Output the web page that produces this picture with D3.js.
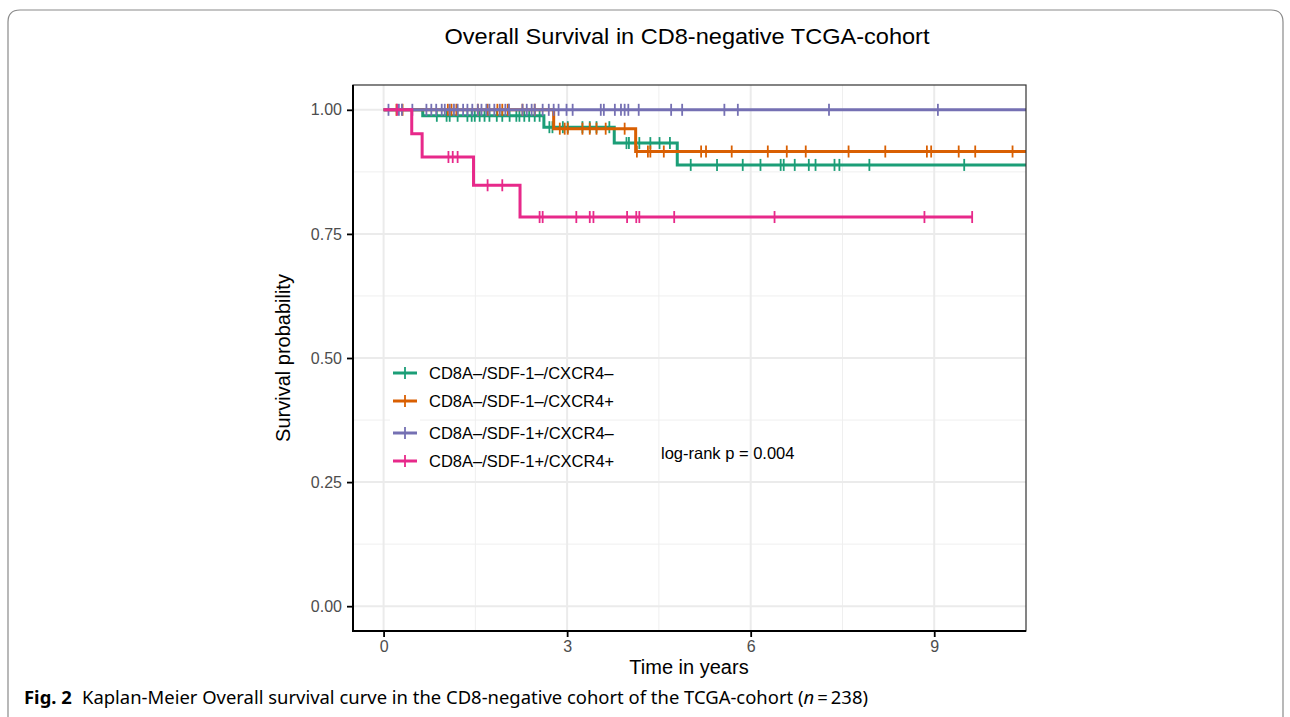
<!DOCTYPE html>
<html>
<head>
<meta charset="utf-8">
<script src="https://cdn.jsdelivr.net/npm/d3@7"></script>
<style>
  body { margin: 0; background: #fff; }
  svg { display: block; }
</style>
</head>
<body>
<div id="chart"></div>
<script>
// strata, colours
const strata = ['CD8A–/SDF-1–/CXCR4–', 'CD8A–/SDF-1–/CXCR4+', 'CD8A–/SDF-1+/CXCR4–', 'CD8A–/SDF-1+/CXCR4+'];
const colors = ['#1B9E77', '#D95F02', '#7570B3', '#E7298A'];

// step curves: event times and survival after each event (start at 0, 1)
const stepTimes = [
  [0, 0.64, 2.62, 3.77, 4.80],
  [0, 2.78, 4.12],
  [0],
  [0, 0.46, 0.63, 1.47, 2.23],
];
const stepSurv = [
  [1, 0.988, 0.965, 0.933, 0.889],
  [1, 0.962, 0.916],
  [1],
  [1, 0.952, 0.905, 0.848, 0.784],
];
const lastTime = [10.8, 10.8, 10.8, 9.62];

// censoring times
const censorTimes = [
  [0.87, 1.03, 1.08, 1.21, 1.37, 1.44, 1.49, 1.57, 1.65, 1.73, 1.85, 1.94, 2.06, 2.17, 2.22, 2.30, 2.38, 2.47, 2.55,
   2.71, 2.76, 2.93, 3.01, 3.25, 3.37, 3.48, 3.69,
   3.97, 4.01, 4.18, 4.36, 4.51, 4.68,
   5.02, 5.45, 5.87, 6.16, 6.49, 6.54, 6.72, 6.95, 7.06, 7.37, 7.45, 7.94, 9.49],
  [0.21, 0.31, 1.05, 1.11, 1.19, 1.54, 1.70, 1.86, 1.94, 2.03, 2.27, 2.47,
   2.88, 2.96, 3.01, 3.25, 3.37, 3.48, 3.63, 3.94,
   4.14, 4.32, 4.36, 4.58, 5.19, 5.27, 5.69, 6.28, 6.59, 6.90, 7.60, 8.20, 8.88, 8.95, 9.40, 9.67, 10.28],
  [0.08, 0.25, 0.30, 0.47, 0.70, 0.78, 0.86, 0.95, 1.00, 1.08, 1.15, 1.21, 1.30, 1.37, 1.45, 1.54, 1.60, 1.68, 1.73,
   1.81, 1.90, 1.99, 2.05, 2.27, 2.34, 2.42, 2.47, 2.60, 2.70, 2.78, 2.86, 2.99, 3.09, 3.55, 3.60, 3.78, 3.88,
   3.94, 4.00, 4.17, 4.70, 4.88, 5.57, 5.79, 7.28, 9.06],
  [0.22, 1.06, 1.13, 1.21, 1.70, 1.94, 2.55, 2.60, 3.15, 3.37, 3.43, 3.98, 4.13, 4.18, 4.75, 6.39, 8.84, 9.62],
];

const xTicks = [0, 3, 6, 9];
const xMinor = [1.5, 4.5, 7.5];
const yTicks = [0, 0.25, 0.5, 0.75, 1];
const yMinor = [0.125, 0.375, 0.625, 0.875];

const W = 1290, H = 717;
const panel = { left: 353, right: 1026, top: 85, bottom: 631 };
const font = "'Liberation Sans', Arial, sans-serif";

const svg = d3.select('#chart').append('svg')
  .attr('width', W).attr('height', H);

// figure frame
svg.append('path')
  .attr('d', `M8,${H} L8,22 Q8,10 20,10 L1271,10 Q1283,10 1283,22 L1283,${H}`)
  .attr('fill', 'none').attr('stroke', '#8a8a8a').attr('stroke-width', 1.2);

// title
svg.append('text')
  .attr('x', 687).attr('y', 44)
  .attr('text-anchor', 'middle')
  .attr('textLength', 485).attr('lengthAdjust', 'spacingAndGlyphs')
  .style('font-family', font).style('font-size', '22px').style('fill', '#000')
  .text('Overall Survival in CD8-negative TCGA-cohort');

const x = d3.scaleLinear().domain([-0.5, 10.5]).range([panel.left, panel.right]);
const y = d3.scaleLinear().domain([-0.05, 1.05]).range([panel.bottom, panel.top]);

svg.append('defs').append('clipPath').attr('id', 'clip')
  .append('rect')
  .attr('x', panel.left).attr('y', panel.top)
  .attr('width', panel.right - panel.left).attr('height', panel.bottom - panel.top);

// grid
const grid = svg.append('g');
grid.selectAll('.xminor').data(xMinor).enter().append('line')
  .attr('x1', d => x(d)).attr('x2', d => x(d))
  .attr('y1', panel.top).attr('y2', panel.bottom)
  .attr('stroke', '#efefef').attr('stroke-width', 1);
grid.selectAll('.yminor').data(yMinor).enter().append('line')
  .attr('y1', d => y(d)).attr('y2', d => y(d))
  .attr('x1', panel.left).attr('x2', panel.right)
  .attr('stroke', '#efefef').attr('stroke-width', 1);
grid.selectAll('.xmajor').data(xTicks).enter().append('line')
  .attr('x1', d => x(d)).attr('x2', d => x(d))
  .attr('y1', panel.top).attr('y2', panel.bottom)
  .attr('stroke', '#ebebeb').attr('stroke-width', 2);
grid.selectAll('.ymajor').data(yTicks).enter().append('line')
  .attr('y1', d => y(d)).attr('y2', d => y(d))
  .attr('x1', panel.left).attr('x2', panel.right)
  .attr('stroke', '#ebebeb').attr('stroke-width', 2);

// curves
const plot = svg.append('g').attr('clip-path', 'url(#clip)');
const line = d3.line().x(d => x(d[0])).y(d => y(d[1])).curve(d3.curveStepAfter);

function survAt(i, t) {
  let s = 1;
  stepTimes[i].forEach((st, k) => { if (st <= t) s = stepSurv[i][k]; });
  return s;
}

strata.forEach((name, i) => {
  const pts = stepTimes[i].map((t, k) => [t, stepSurv[i][k]]);
  pts.push([lastTime[i], stepSurv[i][stepSurv[i].length - 1]]);
  plot.append('path')
    .datum(pts)
    .attr('d', line)
    .attr('fill', 'none')
    .attr('stroke', colors[i])
    .attr('stroke-width', 3);
  plot.selectAll('.c' + i)
    .data(censorTimes[i])
    .enter().append('line')
    .attr('x1', d => x(d)).attr('x2', d => x(d))
    .attr('y1', d => y(survAt(i, d)) - 6)
    .attr('y2', d => y(survAt(i, d)) + 6)
    .attr('stroke', colors[i])
    .attr('stroke-width', 1.8);
});

// panel border
svg.append('rect')
  .attr('x', panel.left).attr('y', panel.top)
  .attr('width', panel.right - panel.left).attr('height', panel.bottom - panel.top)
  .attr('fill', 'none').attr('stroke', '#333').attr('stroke-width', 1.2);
svg.append('line')
  .attr('x1', panel.left).attr('x2', panel.left)
  .attr('y1', panel.top).attr('y2', panel.bottom + 1)
  .attr('stroke', '#000').attr('stroke-width', 2);
svg.append('line')
  .attr('x1', panel.left - 1).attr('x2', panel.right)
  .attr('y1', panel.bottom).attr('y2', panel.bottom)
  .attr('stroke', '#000').attr('stroke-width', 2);

// axes
const xAxis = svg.append('g')
  .attr('transform', `translate(0,${panel.bottom + 1})`)
  .call(d3.axisBottom(x).tickValues(xTicks).tickSize(5).tickPadding(4));
const yAxis = svg.append('g')
  .attr('transform', `translate(${panel.left - 1},0)`)
  .call(d3.axisLeft(y).tickValues(yTicks).tickFormat(d3.format('.2f')).tickSize(5).tickPadding(5));
[xAxis, yAxis].forEach(a => {
  a.select('.domain').remove();
  a.selectAll('.tick line').attr('stroke', '#000').attr('stroke-width', 1.8);
  a.selectAll('.tick text')
    .style('font-family', font).style('font-size', '16px').style('fill', '#4d4d4d');
});

// axis titles
svg.append('text')
  .attr('x', 689).attr('y', 674)
  .attr('text-anchor', 'middle')
  .style('font-family', font).style('font-size', '20px')
  .text('Time in years');
svg.append('text')
  .attr('transform', 'translate(290,358) rotate(-90)')
  .attr('text-anchor', 'middle')
  .style('font-family', font).style('font-size', '20px')
  .text('Survival probability');

// legend
const legendRows = [373, 401, 433, 461];
const legend = svg.append('g');
strata.forEach((name, i) => {
  const ly = legendRows[i];
  legend.append('rect')
    .attr('x', 390).attr('y', ly - 14).attr('width', 30).attr('height', 28)
    .attr('fill', '#fff');
  legend.append('line')
    .attr('x1', 393).attr('x2', 417).attr('y1', ly).attr('y2', ly)
    .attr('stroke', colors[i]).attr('stroke-width', 3);
  legend.append('line')
    .attr('x1', 405).attr('x2', 405).attr('y1', ly - 6).attr('y2', ly + 6)
    .attr('stroke', colors[i]).attr('stroke-width', 1.8);
  legend.append('text')
    .attr('x', 429).attr('y', ly + 6)
    .style('font-family', font).style('font-size', '16.5px')
    .text(name);
});

// p-value
svg.append('text')
  .attr('x', 661).attr('y', 459)
  .style('font-family', font).style('font-size', '16.5px')
  .text('log-rank p = 0.004');

// caption
const cap = svg.append('text')
  .attr('x', 24).attr('y', 704)
  .attr('textLength', 844).attr('lengthAdjust', 'spacingAndGlyphs')
  .style('font-family', "'Noto Sans', 'Open Sans', sans-serif").style('font-size', '18px');
cap.append('tspan').style('font-weight', 'bold').text('Fig. 2');
cap.append('tspan').attr('dx', 10)
  .text('Kaplan-Meier Overall survival curve in the CD8-negative cohort of the TCGA-cohort (');
cap.append('tspan').style('font-style', 'italic').text('n');
cap.append('tspan').text('\u2009=\u2009238)');
</script>
</body>
</html>
